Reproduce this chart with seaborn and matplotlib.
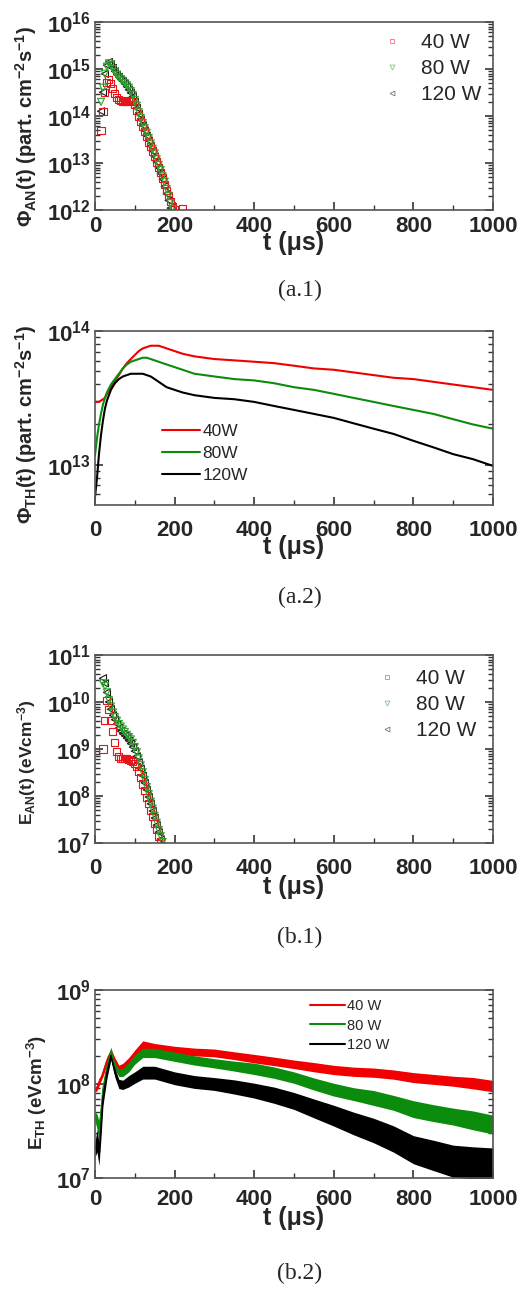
import numpy as np
import pandas as pd
import matplotlib
matplotlib.use("Agg")
import matplotlib.pyplot as plt
from matplotlib.lines import Line2D
from matplotlib.ticker import FixedLocator, LogLocator, MultipleLocator, NullFormatter
import seaborn as sns

nan = np.nan

# ---------------------------------------------------------------- data
powers = ["40 W", "80 W", "120 W"]
powers_compact = ["40W", "80W", "120W"]

# (a.1) anomalous particle flux, part. cm^-2 s^-1
t_an_flux = [15, 20, 25, 30, 35, 40, 45, 50, 55, 60, 65, 70, 75, 80, 85, 90,
             95, 100, 105, 110, 115, 120, 125, 130, 135, 140, 145, 150, 155,
             160, 165, 170, 175, 180, 185, 190, 195, 200, 220]
phi_an_40w = [5.0e13, 1.26e14, 3.2e14, 5.2e14, 6.0e14, 5.0e14, 3.8e14, 3.0e14,
              2.5e14, 2.24e14, 2.1e14, 2.04e14, 2.04e14, 2.04e14, 2.1e14, 2.1e14,
              2.0e14, 1.78e14, 1.32e14, 1.0e14, 7.6e13, 5.9e13, 4.6e13, 3.6e13,
              2.8e13, 2.24e13, 1.74e13, 1.35e13, 1.05e13, 8.1e12, 6.3e12, 4.8e12,
              3.5e12, 2.6e12, 2.0e12, 1.5e12, 1.17e12, 1.0e12, 1.1e12]
phi_an_80w = [2.0e14, 4.0e14, 7.9e14, 1.12e15, 1.32e15, 1.2e15, 1.0e15, 8.5e14,
              7.4e14, 6.6e14, 6.0e14, 5.6e14, 5.0e14, 4.5e14, 4.0e14, 3.4e14,
              2.8e14, 2.2e14, 1.66e14, 1.2e14, 9.1e13, 7.1e13, 5.5e13, 4.4e13,
              3.4e13, 2.6e13, 2.0e13, 1.6e13, 1.2e13, 9.1e12, 7.1e12, 5.2e12,
              4.0e12, 2.8e12, 2.0e12, 1.4e12, 1.05e12, nan, nan]
phi_an_120w = [1.26e14, 3.2e14, 7.9e14, 1.2e15, 1.41e15, 1.26e15, 1.05e15, 8.9e14,
               7.6e14, 6.8e14, 6.0e14, 5.5e14, 4.8e14, 4.2e14, 3.6e14, 3.1e14,
               2.6e14, 2.0e14, 1.48e14, 1.1e14, 8.3e13, 6.3e13, 4.9e13, 3.8e13,
               3.0e13, 2.3e13, 1.8e13, 1.38e13, 1.05e13, 7.9e12, 6.0e12, 4.5e12,
               3.2e12, 2.2e12, 1.6e12, 1.1e12, nan, nan, nan]

# (a.2) thermal particle flux
t_th_flux = [0, 5, 10, 15, 20, 25, 30, 40, 50, 60, 70, 80, 90, 100, 110, 120,
             130, 140, 150, 160, 170, 180, 200, 220, 250, 300, 350, 400, 450,
             500, 550, 600, 650, 700, 750, 800, 850, 900, 950, 1000]
phi_th_40w = [2.95e13, 2.95e13, 2.95e13, 3.02e13, 3.09e13, 3.16e13, 3.39e13, 3.80e13,
              4.27e13, 4.68e13, 5.25e13, 5.75e13, 6.17e13, 6.61e13, 7.08e13, 7.41e13,
              7.59e13, 7.76e13, 7.76e13, 7.76e13, 7.59e13, 7.41e13, 7.08e13, 6.76e13,
              6.46e13, 6.17e13, 6.03e13, 5.89e13, 5.75e13, 5.50e13, 5.25e13, 5.13e13,
              4.90e13, 4.68e13, 4.47e13, 4.37e13, 4.17e13, 3.98e13, 3.80e13, 3.63e13]
phi_th_80w = [1.17e13, 1.58e13, 2.0e13, 2.4e13, 2.82e13, 3.16e13, 3.47e13, 3.98e13,
              4.37e13, 4.79e13, 5.25e13, 5.62e13, 5.89e13, 6.03e13, 6.17e13, 6.31e13,
              6.31e13, 6.17e13, 6.03e13, 5.89e13, 5.75e13, 5.62e13, 5.37e13, 5.13e13,
              4.79e13, 4.57e13, 4.37e13, 4.27e13, 4.07e13, 3.80e13, 3.63e13, 3.39e13,
              3.16e13, 2.95e13, 2.75e13, 2.57e13, 2.40e13, 2.19e13, 2.0e13, 1.86e13]
phi_th_120w = [5.75e12, 7.94e12, 1.2e13, 1.66e13, 2.14e13, 2.63e13, 3.02e13, 3.63e13,
               4.07e13, 4.37e13, 4.57e13, 4.68e13, 4.79e13, 4.79e13, 4.79e13, 4.79e13,
               4.68e13, 4.57e13, 4.37e13, 4.17e13, 3.98e13, 3.80e13, 3.63e13, 3.47e13,
               3.31e13, 3.16e13, 3.09e13, 2.95e13, 2.75e13, 2.57e13, 2.40e13, 2.24e13,
               2.04e13, 1.86e13, 1.70e13, 1.51e13, 1.35e13, 1.20e13, 1.10e13, 9.8e12]

# (b.1) anomalous energy density, eV cm^-3
t_an_energy = [20, 25, 30, 35, 40, 45, 50, 55, 60, 65, 70, 75, 80, 85, 90, 95,
               100, 105, 110, 115, 120, 125, 130, 135, 140, 145, 150, 155, 160,
               165, 170]
e_an_40w = [1.0e9, 4.0e9, 1.1e10, 7.0e9, 4.0e9, 2.4e9, 1.4e9, 9.0e8, 7.0e8, 6.3e8,
            6.2e8, 6.2e8, 6.2e8, 6.0e8, 5.8e8, 5.5e8, 5.0e8, 4.2e8, 3.3e8, 2.5e8,
            1.8e8, 1.3e8, 9.5e7, 7.0e7, 5.0e7, 3.6e7, 2.6e7, 1.9e7, 1.4e7, 1.05e7, nan]
e_an_80w = [2.5e10, 2.2e10, 1.6e10, 1.1e10, 8.0e9, 6.0e9, 4.8e9, 4.0e9, 3.4e9, 3.0e9,
            2.6e9, 2.3e9, 2.0e9, 1.8e9, 1.6e9, 1.35e9, 1.1e9, 8.5e8, 6.3e8, 4.5e8,
            3.2e8, 2.2e8, 1.55e8, 1.1e8, 7.6e7, 5.4e7, 3.8e7, 2.7e7, 1.9e7, 1.4e7, 1.05e7]
e_an_120w = [3.2e10, 2.5e10, 1.6e10, 1.0e10, 7.0e9, 5.2e9, 4.2e9, 3.4e9, 2.8e9, 2.4e9,
             2.1e9, 1.9e9, 1.7e9, 1.5e9, 1.3e9, 1.1e9, 9.0e8, 7.0e8, 5.2e8, 3.8e8,
             2.7e8, 1.9e8, 1.35e8, 9.5e7, 6.8e7, 4.8e7, 3.4e7, 2.4e7, 1.7e7, 1.2e7, nan]

# (b.2) thermal energy density: trace level and the spread of its noise (x / ÷)
t_th_energy = [0, 5, 10, 15, 20, 30, 40, 50, 60, 70, 85, 100, 120, 150, 200, 250,
               300, 350, 400, 450, 500, 550, 600, 650, 700, 750, 800, 850, 900,
               950, 1000]
e_th_40w = [8.7e7, 9.1e7, 1.05e8, 1.15e8, 1.32e8, 1.78e8, 2.19e8, 1.78e8, 1.48e8,
            1.51e8, 1.74e8, 2.09e8, 2.57e8, 2.45e8, 2.29e8, 2.19e8, 2.14e8, 2.0e8,
            1.86e8, 1.74e8, 1.62e8, 1.51e8, 1.41e8, 1.35e8, 1.32e8, 1.26e8, 1.17e8,
            1.12e8, 1.07e8, 1.02e8, 9.5e7]
e_th_40w_noise = [1.07, 1.07, 1.10, 1.07, 1.10, 1.10, 1.07, 1.07, 1.07, 1.10, 1.10,
                  1.10, 1.12, 1.10, 1.10, 1.10, 1.10, 1.10, 1.11, 1.11, 1.11, 1.12,
                  1.12, 1.12, 1.12, 1.12, 1.13, 1.13, 1.13, 1.15, 1.15]
e_th_80w = [4.5e7, 4.0e7, 3.2e7, 5.0e7, 8.9e7, 1.51e8, 2.24e8, 1.58e8, 1.32e8, 1.32e8,
            1.51e8, 1.82e8, 2.14e8, 2.14e8, 1.95e8, 1.78e8, 1.66e8, 1.55e8, 1.45e8,
            1.32e8, 1.17e8, 1.0e8, 8.7e7, 7.8e7, 7.1e7, 6.3e7, 5.4e7, 4.9e7, 4.5e7,
            4.1e7, 3.7e7]
e_th_80w_noise = [1.12, 1.20, 1.26, 1.26, 1.15, 1.12, 1.10, 1.10, 1.10, 1.10, 1.12,
                  1.12, 1.12, 1.12, 1.12, 1.12, 1.12, 1.13, 1.15, 1.15, 1.15, 1.16,
                  1.17, 1.17, 1.20, 1.20, 1.23, 1.23, 1.23, 1.26, 1.26]
e_th_120w = [2.0e7, 2.5e7, 1.8e7, 3.5e7, 7.1e7, 1.32e8, 2.0e8, 1.32e8, 1.0e8, 9.8e7,
             1.07e8, 1.17e8, 1.32e8, 1.32e8, 1.15e8, 1.05e8, 1.0e8, 9.3e7, 8.5e7,
             7.6e7, 6.6e7, 5.5e7, 4.6e7, 3.8e7, 3.2e7, 2.6e7, 2.0e7, 1.74e7, 1.51e7,
             1.45e7, 1.41e7]
e_th_120w_noise = [1.20, 1.32, 1.32, 1.32, 1.20, 1.15, 1.10, 1.12, 1.12, 1.12, 1.15,
                   1.15, 1.17, 1.17, 1.17, 1.17, 1.17, 1.19, 1.20, 1.22, 1.23, 1.26,
                   1.29, 1.32, 1.35, 1.38, 1.41, 1.45, 1.48, 1.48, 1.48]

# ---------------------------------------------------------------- style
sns.set_theme(style="ticks")
plt.rcParams.update({
    "font.family": ["Liberation Sans", "DejaVu Sans"],
    "font.weight": "bold",
    "axes.labelweight": "bold",
    "mathtext.fontset": "custom",
    "mathtext.rm": "Liberation Sans:bold",
    "mathtext.it": "Liberation Sans:bold",
    "mathtext.bf": "Liberation Sans:bold",
    "mathtext.default": "rm",
})

marker_colors = ["#e8141a", "#2aa52a", "#1a1a1a"]
line_colors = ["#f00000", "#0c8c0c", "#000000"]
markers = ["s", "v", "<"]
draw_order = [2, 0, 1]  # black underneath, green on top
tick_color = "#333333"

W, H = 521, 1290
fig = plt.figure(figsize=(W / 100, H / 100), dpi=100)


def make_axes(top, bottom, left=95, right=493):
    return fig.add_axes([left / W, 1 - bottom / H, (right - left) / W, (bottom - top) / H])


def style_axes(ax, ylim, ylabel, label_size, label_x, label_y, xpad, xlabel_y):
    ax.set_yscale("log")
    ax.set_xlim(0, 1000)
    ax.set_ylim(*ylim)
    lo, hi = int(np.floor(np.log10(ylim[0]))), int(np.ceil(np.log10(ylim[1])))
    minor = [m * 10.0 ** e for e in range(lo, hi) for m in range(2, 10)
             if ylim[0] < m * 10.0 ** e < ylim[1]]
    ax.xaxis.set_major_locator(MultipleLocator(200))
    ax.xaxis.set_minor_locator(MultipleLocator(100))
    ax.yaxis.set_major_locator(LogLocator(base=10, numticks=20))
    ax.yaxis.set_minor_locator(FixedLocator(minor))
    ax.yaxis.set_minor_formatter(NullFormatter())
    ax.tick_params(which="both", direction="in", right=True, top=False,
                   color=tick_color)
    ax.tick_params(which="major", length=6, width=1.2)
    ax.tick_params(which="minor", length=3.5, width=1.0)
    ax.tick_params(axis="x", which="major", labelsize=16, pad=xpad)
    ax.tick_params(axis="y", which="major", labelsize=16, pad=3)
    for sp in ax.spines.values():
        sp.set_visible(True)
        sp.set_linewidth(1.2)
        sp.set_color("#555555")
    ax.set_xlabel("t (\u03bcs)", fontsize=18, fontweight="bold", va="top")
    ax.xaxis.set_label_coords(0.5, xlabel_y)
    ax.set_ylabel(ylabel, fontsize=label_size, fontweight="bold", va="center")
    ax.yaxis.set_label_coords(label_x, label_y)


def scatter_panel(ax, t, series_list):
    for i in draw_order:
        df = pd.DataFrame({"t": t, "v": series_list[i]}).dropna()
        col = marker_colors[i]
        sns.scatterplot(data=df, x="t", y="v", ax=ax, marker=markers[i], s=26,
                        color=col, facecolors="none", edgecolor=col,
                        linewidth=0.8, legend=False)


def marker_legend(ax, x, y):
    handles = [Line2D([], [], ls="none", marker=mk, markersize=3.5,
                      markerfacecolor="none", markeredgecolor=col,
                      markeredgewidth=0.6, alpha=0.6)
               for col, mk in zip(marker_colors, markers)]
    ax.legend(handles, powers, loc="upper left", bbox_to_anchor=(x, y),
              frameon=False, borderpad=0, borderaxespad=0, handlelength=1.0,
              handletextpad=0.9, labelspacing=0.33,
              prop={"family": "Liberation Sans", "weight": "normal", "size": 15})


def line_legend(ax, labels, x, y, size, hlen, spacing):
    handles = [Line2D([], [], color=c, lw=1.5) for c in line_colors]
    ax.legend(handles, labels, loc="upper left", bbox_to_anchor=(x, y),
              frameon=False, borderpad=0, borderaxespad=0, handlelength=hlen,
              handletextpad=0.15, labelspacing=spacing,
              prop={"family": "Liberation Sans", "weight": "normal", "size": size})


def caption(text, y):
    fig.text(300 / W, 1 - y / H, text, ha="center", va="center",
             family="Liberation Serif", fontweight="normal", fontsize=17)


# ---------------------------------------------------------------- (a.1)
ax1 = make_axes(22, 210)
scatter_panel(ax1, t_an_flux, [phi_an_40w, phi_an_80w, phi_an_120w])
style_axes(ax1, (1e12, 1e16), r"$\Phi_{AN}$(t) (part. cm$^{-2}$s$^{-1}$)",
           14.5, -0.173, 0.444, 4, -0.11)
marker_legend(ax1, 0.72, 0.94)
caption("(a.1)", 290)

# ---------------------------------------------------------------- (a.2)
ax2 = make_axes(331, 505)
for vals, col in zip([phi_th_40w, phi_th_80w, phi_th_120w], line_colors):
    sns.lineplot(x=t_th_flux, y=vals, ax=ax2, color=col, lw=1.5,
                 estimator=None, sort=False, legend=False)
style_axes(ax2, (5e12, 1e14), r"$\Phi_{TH}$(t) (part. cm$^{-2}$s$^{-1}$)",
           14.5, -0.173, 0.466, 11, -0.17)
line_legend(ax2, powers_compact, 0.168, 0.465, 12.5, 2.2, 0.4)
caption("(a.2)", 597)

# ---------------------------------------------------------------- (b.1)
ax3 = make_axes(655, 843)
scatter_panel(ax3, t_an_energy, [e_an_40w, e_an_80w, e_an_120w])
style_axes(ax3, (1e7, 1e11), r"E$_{AN}$(t) (eVcm$^{-3}$)",
           12.5, -0.173, 0.43, 11, -0.17)
marker_legend(ax3, 0.707, 0.925)
caption("(b.1)", 937)

# ---------------------------------------------------------------- (b.2)
ax4 = make_axes(990, 1178)
for vals, noise, col in zip([e_th_40w, e_th_80w, e_th_120w],
                            [e_th_40w_noise, e_th_80w_noise, e_th_120w_noise],
                            line_colors):
    v = np.asarray(vals)
    f = np.asarray(noise)
    ax4.fill_between(t_th_energy, v / f, v * f, color=col, lw=0)
    sns.lineplot(x=t_th_energy, y=vals, ax=ax4, color=col, lw=1.0,
                 estimator=None, sort=False, legend=False)
style_axes(ax4, (1e7, 1e9), r"E$_{TH}$ (eVcm$^{-3}$)",
           13.5, -0.146, 0.457, 8, -0.15)
line_legend(ax4, powers, 0.54, 0.95, 10.5, 2.4, 0.35)
caption("(b.2)", 1273)

fig.savefig("out.png", dpi=100)
